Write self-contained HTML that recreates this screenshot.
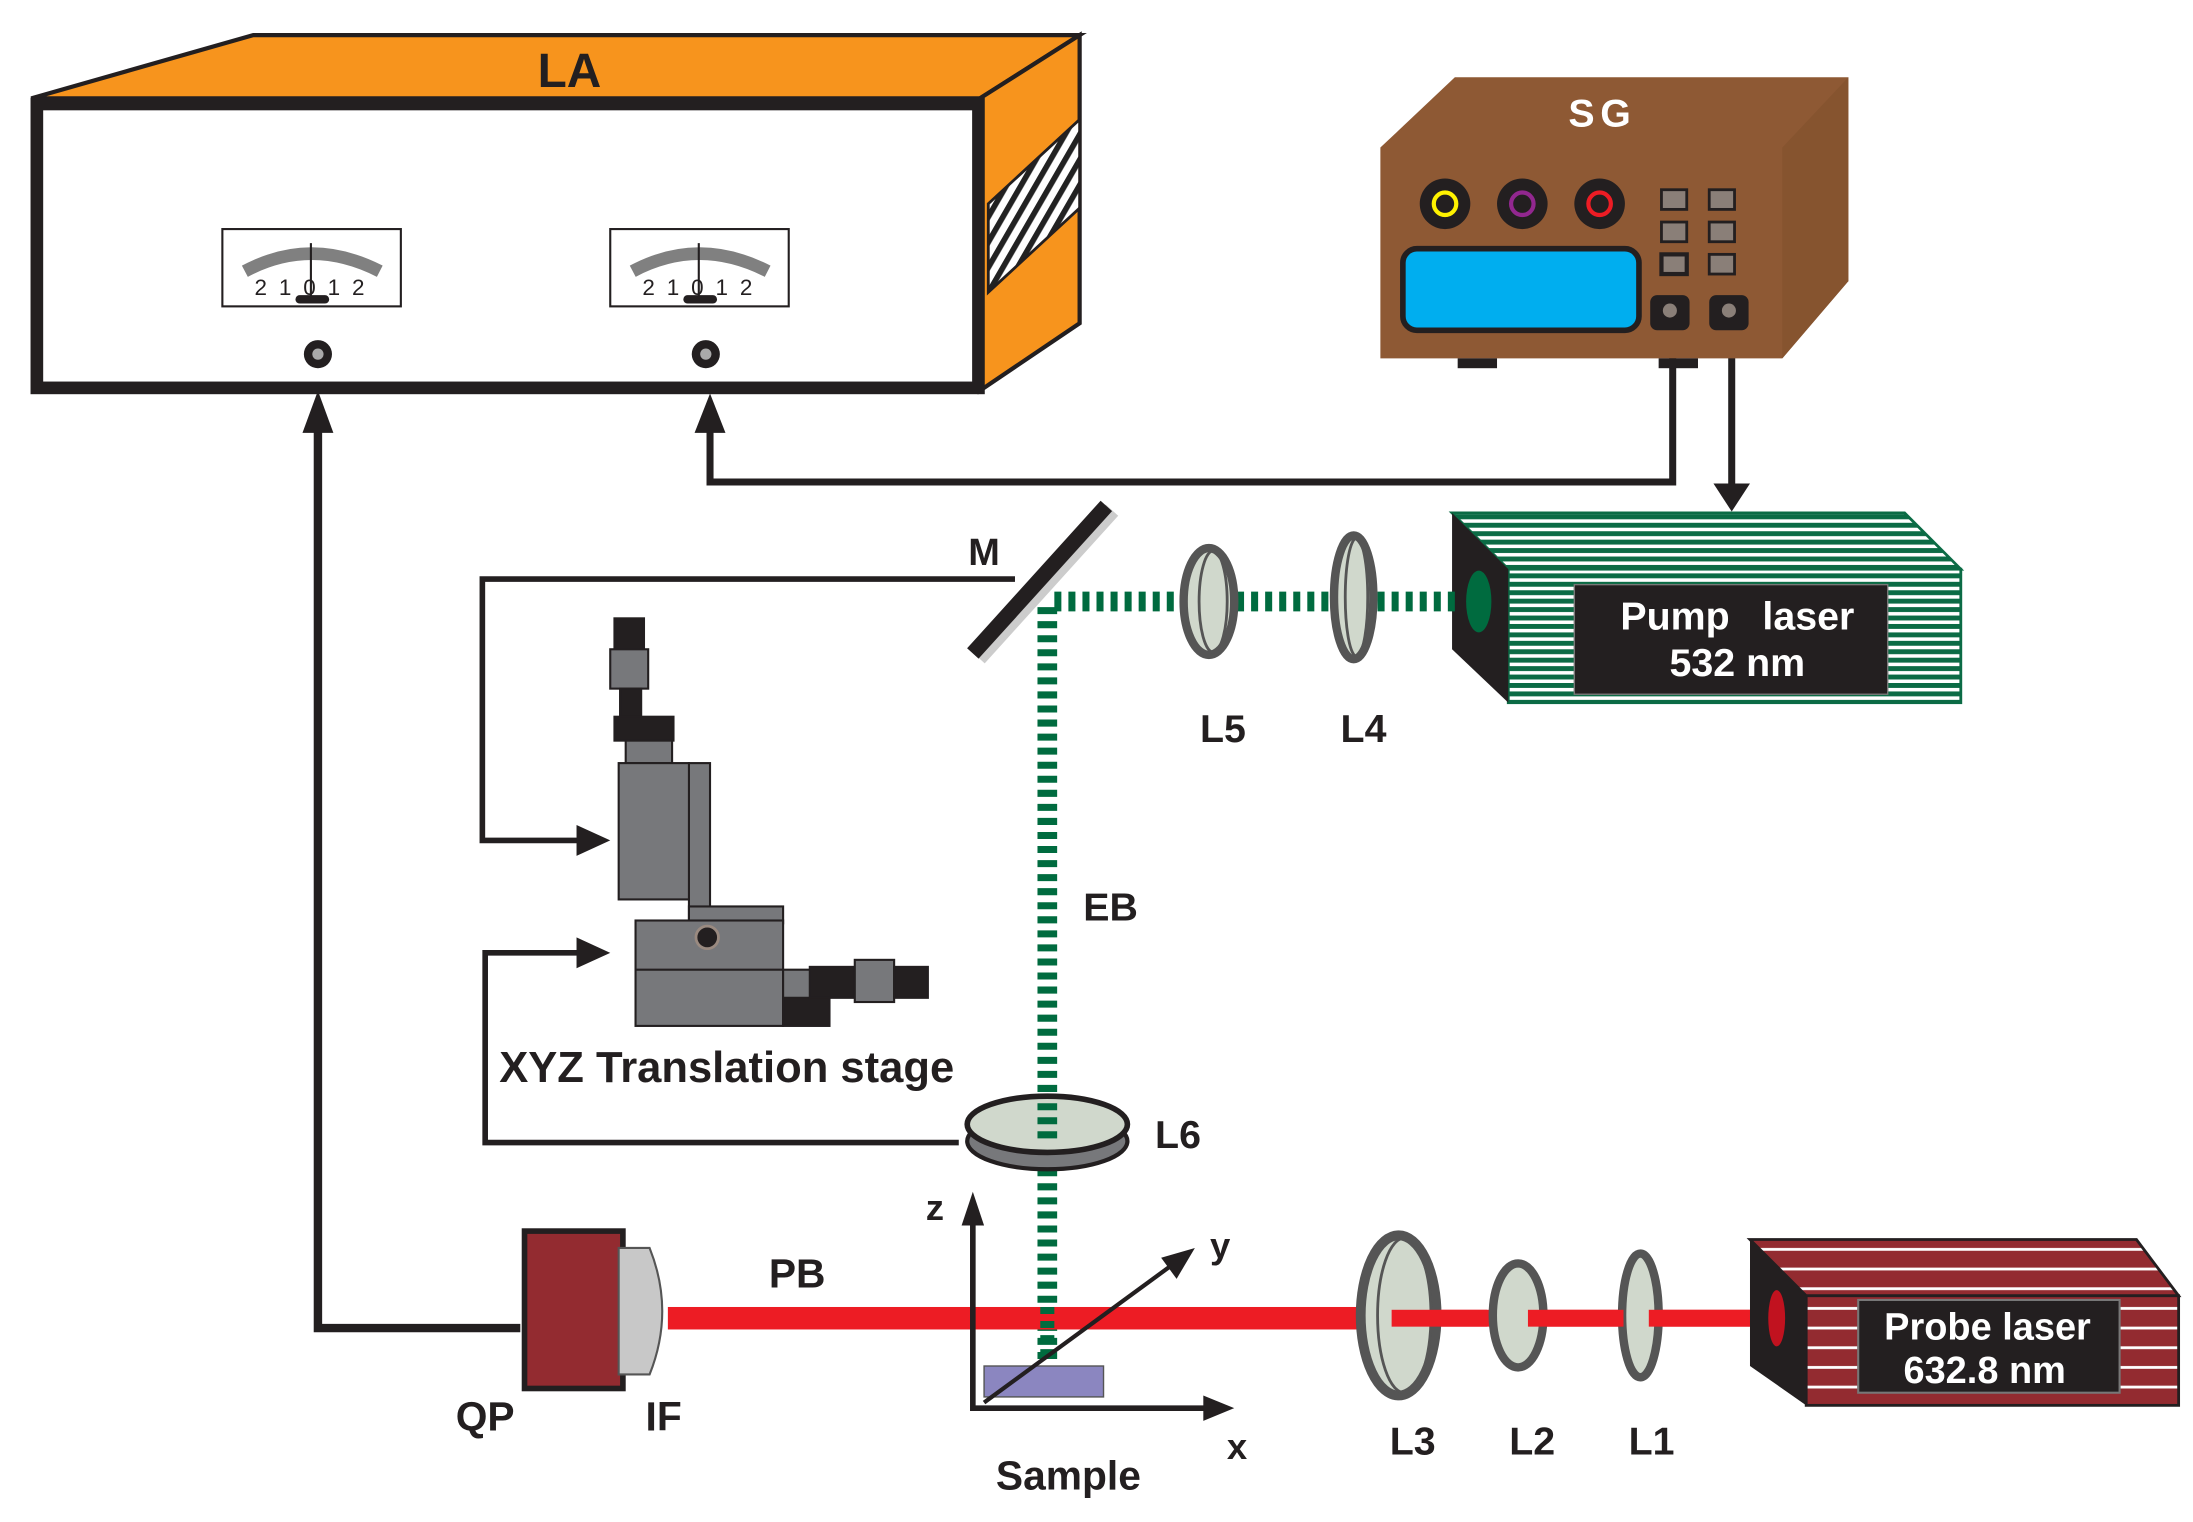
<!DOCTYPE html>
<html><head><meta charset="utf-8"><style>
html,body{margin:0;padding:0;background:#fff;}
svg{display:block;}
text{font-family:"Liberation Sans",sans-serif;font-weight:bold;}
</style></head><body>
<svg width="2193" height="1522" viewBox="0 0 1560 1083" xmlns="http://www.w3.org/2000/svg">
<defs>
<pattern id="hatch" patternUnits="userSpaceOnUse" width="9" height="9" patternTransform="rotate(30)">
<rect width="9" height="9" fill="#fff"/><rect width="4" height="9" fill="#222"/></pattern>
<pattern id="gstripe" patternUnits="userSpaceOnUse" width="6" height="6"><rect width="6" height="6" fill="#fff"/><rect width="6" height="3.5" fill="#0b6b45"/></pattern>
<pattern id="rstripe" patternUnits="userSpaceOnUse" width="12" height="14"><rect width="12" height="14" fill="#932b30"/><rect y="6" width="12" height="2" fill="#fff"/></pattern>
</defs>

<!-- LA -->
<polygon points="22,70 180,25 768,25 697,70" fill="#f7941d" stroke="#231f20" stroke-width="3"/>
<polygon points="697,70 768,25 768,230 697,278" fill="#f7941d" stroke="#231f20" stroke-width="3"/>
<polygon points="703,145 768,85 768,148 703,208" fill="url(#hatch)" stroke="#231f20" stroke-width="2"/>
<rect x="26" y="74" width="670" height="202" fill="#fff" stroke="#231f20" stroke-width="9"/>
<text x="405" y="62" font-size="34" text-anchor="middle" fill="#231f20">LA</text>
<g id="meter">
<rect x="158" y="163" width="127" height="55" fill="#fff" stroke="#231f20" stroke-width="1.5"/>
<path d="M174,193 Q221,168 270,193" fill="none" stroke="#808080" stroke-width="9"/>
<line x1="221" y1="173" x2="221" y2="212" stroke="#231f20" stroke-width="1.5"/>
<rect x="210" y="210" width="24" height="6" rx="3" fill="#231f20"/>
<text x="221" y="210" font-size="16" text-anchor="middle" fill="#231f20" style="font-weight:normal" letter-spacing="2">2 1 0 1 2</text>
</g>
<use href="#meter" x="276"/>
<circle cx="226" cy="252" r="10" fill="#231f20"/><circle cx="226" cy="252" r="4" fill="#aaa"/>
<circle cx="502" cy="252" r="10" fill="#231f20"/><circle cx="502" cy="252" r="4" fill="#aaa"/>

<!-- wires -->
<polyline points="370,945 226,945 226,300" fill="none" stroke="#231f20" stroke-width="6"/>
<polygon points="226,278 215,308 237,308" fill="#231f20"/>
<polyline points="1190,225 1190,343 505,343 505,300" fill="none" stroke="#231f20" stroke-width="5"/>
<polygon points="505,280 494,308 516,308" fill="#231f20"/>
<line x1="1232" y1="225" x2="1232" y2="345" stroke="#231f20" stroke-width="5"/>
<polygon points="1232,364 1219,344 1245,344" fill="#231f20"/>

<!-- SG -->
<polygon points="982,105 1035,55 1315,55 1315,200 1268,255 982,255" fill="#8e5934"/>
<polygon points="1268,105 1315,55 1315,200 1268,255" fill="#86542f"/>
<text x="1140" y="90" font-size="28" fill="#fff" text-anchor="middle" letter-spacing="4">SG</text>
<circle cx="1028" cy="145" r="18" fill="#231f20"/><circle cx="1028" cy="145" r="8" fill="none" stroke="#fff200" stroke-width="3"/>
<circle cx="1083" cy="145" r="18" fill="#231f20"/><circle cx="1083" cy="145" r="8" fill="none" stroke="#92278f" stroke-width="3"/>
<circle cx="1138" cy="145" r="18" fill="#231f20"/><circle cx="1138" cy="145" r="8" fill="none" stroke="#ed1c24" stroke-width="3"/>
<g fill="#8a7f78" stroke="#231f20" stroke-width="2">
<rect x="1182" y="135" width="18" height="14"/><rect x="1216" y="135" width="18" height="14"/>
<rect x="1182" y="158" width="18" height="14"/><rect x="1216" y="158" width="18" height="14"/>
<rect x="1182" y="181" width="18" height="14" stroke-width="3"/><rect x="1216" y="181" width="18" height="14"/>
</g>
<rect x="998" y="177" width="168" height="58" rx="10" fill="#00aeef" stroke="#231f20" stroke-width="4"/>
<rect x="1174" y="210" width="28" height="25" rx="5" fill="#231f20"/><circle cx="1188" cy="221" r="5" fill="#8a7f78"/>
<rect x="1216" y="210" width="28" height="25" rx="5" fill="#231f20"/><circle cx="1230" cy="221" r="5" fill="#8a7f78"/>
<rect x="1037" y="255" width="28" height="7" fill="#231f20"/>
<rect x="1180" y="255" width="28" height="7" fill="#231f20"/>

<!-- Pump laser -->
<polygon points="1033,365 1355,365 1395,405 1073,405" fill="url(#gstripe)" stroke="#0b6b45" stroke-width="2"/>
<rect x="1073" y="405" width="322" height="95" fill="url(#gstripe)" stroke="#0b6b45" stroke-width="2"/>
<polygon points="1033,365 1073,405 1073,500 1033,462" fill="#231f20"/>
<ellipse cx="1052" cy="428" rx="9" ry="22" fill="#006b3f"/>
<rect x="1120" y="416" width="223" height="78" fill="#231f20" stroke="#777" stroke-width="1"/>
<text x="1236" y="448" font-size="28" fill="#fff" text-anchor="middle" xml:space="preserve">Pump   laser</text>
<text x="1236" y="481" font-size="28" fill="#fff" text-anchor="middle">532 nm</text>

<!-- green beam -->
<line x1="750" y1="428" x2="1040" y2="428" stroke="#006b3f" stroke-width="14" stroke-dasharray="5,5"/>
<line x1="745" y1="432" x2="745" y2="968" stroke="#006b3f" stroke-width="14" stroke-dasharray="5,5"/>

<!-- mirror -->
<line x1="692" y1="465" x2="787" y2="360" stroke="#ccc" stroke-width="12" transform="translate(4,3)"/>
<line x1="692" y1="465" x2="787" y2="360" stroke="#231f20" stroke-width="11"/>
<text x="700" y="402" font-size="27" fill="#231f20" text-anchor="middle">M</text>

<!-- L5 L4 -->
<ellipse cx="860" cy="428" rx="18" ry="38" fill="#d0d8cc" stroke="#555" stroke-width="6"/>
<ellipse cx="863" cy="428" rx="10" ry="36" fill="none" stroke="#555" stroke-width="2"/>
<ellipse cx="963" cy="425" rx="14" ry="44" fill="#d0d8cc" stroke="#555" stroke-width="6"/>
<ellipse cx="965" cy="425" rx="8" ry="42" fill="none" stroke="#555" stroke-width="2"/>
<text x="870" y="528" font-size="28" fill="#231f20" text-anchor="middle">L5</text>
<text x="970" y="528" font-size="28" fill="#231f20" text-anchor="middle">L4</text>
<text x="790" y="655" font-size="28" fill="#231f20" text-anchor="middle">EB</text>

<!-- control wires -->
<polyline points="722,412 343,412 343,598 414,598" fill="none" stroke="#231f20" stroke-width="4"/>
<polygon points="434,598 410,587 410,609" fill="#231f20"/>
<polyline points="682,813 345,813 345,678 414,678" fill="none" stroke="#231f20" stroke-width="4"/>
<polygon points="434,678 410,667 410,689" fill="#231f20"/>

<!-- translation stage -->
<g stroke="#231f20" stroke-width="1.5">
<rect x="437" y="440" width="21" height="25" fill="#231f20"/>
<rect x="434" y="462" width="27" height="28" fill="#77787b"/>
<rect x="441" y="490" width="15" height="20" fill="#231f20"/>
<rect x="437" y="510" width="42" height="17" fill="#231f20"/>
<rect x="445" y="527" width="33" height="16" fill="#77787b"/>
<rect x="490" y="543" width="15" height="112" fill="#77787b"/>
<rect x="440" y="543" width="50" height="97" fill="#77787b"/>
<rect x="490" y="645" width="67" height="12" fill="#77787b"/>
<rect x="452" y="655" width="105" height="75" fill="#77787b"/>
<line x1="452" y1="690" x2="557" y2="690"/>
<rect x="557" y="710" width="33" height="20" fill="#231f20"/>
<rect x="557" y="690" width="22" height="20" fill="#77787b"/>
<rect x="576" y="688" width="34" height="22" fill="#231f20"/>
<rect x="608" y="683" width="28" height="30" fill="#77787b"/>
<rect x="636" y="688" width="24" height="22" fill="#231f20"/>
</g>
<circle cx="503" cy="667" r="8" fill="#231f20" stroke="#9a8a80" stroke-width="2"/>
<text x="355" y="770" font-size="31" fill="#231f20">XYZ Translation stage</text>

<!-- L6 -->
<ellipse cx="745" cy="812" rx="57" ry="20" fill="#77787b" stroke="#231f20" stroke-width="3"/>
<ellipse cx="745" cy="800" rx="57" ry="20" fill="#d0d8cc" stroke="#231f20" stroke-width="4"/>
<line x1="745" y1="785" x2="745" y2="812" stroke="#006b3f" stroke-width="14" stroke-dasharray="5,5"/>
<text x="838" y="817" font-size="28" fill="#231f20" text-anchor="middle">L6</text>

<!-- red beam -->
<rect x="475" y="930" width="500" height="16" fill="#ed1c24"/>
<rect x="985" y="932" width="275" height="12" fill="#ed1c24"/>
<line x1="745" y1="930" x2="745" y2="968" stroke="#006b3f" stroke-width="10" stroke-dasharray="5,5"/>

<!-- axes -->
<rect x="700" y="972" width="85" height="22" fill="#8b86c0" stroke="#555" stroke-width="1"/>
<polyline points="692,870 692,1002 860,1002" fill="none" stroke="#231f20" stroke-width="4"/>
<polygon points="692,848 684,872 700,872" fill="#231f20"/>
<polygon points="878,1002 856,993 856,1011" fill="#231f20"/>
<line x1="700" y1="998" x2="838" y2="897" stroke="#231f20" stroke-width="3"/>
<polygon points="850,888 826,895 837,910" fill="#231f20"/>
<text x="665" y="868" font-size="26" fill="#231f20" text-anchor="middle">z</text>
<text x="868" y="895" font-size="26" fill="#231f20" text-anchor="middle">y</text>
<text x="880" y="1038" font-size="26" fill="#231f20" text-anchor="middle">x</text>
<text x="760" y="1060" font-size="29" fill="#231f20" text-anchor="middle">Sample</text>

<!-- QP IF -->
<rect x="373" y="876" width="70" height="112" fill="#932b30" stroke="#231f20" stroke-width="4"/>
<path d="M440,888 L462,888 Q480,933 462,978 L440,978 z" fill="#c8c8c8" stroke="#555" stroke-width="1.5"/>
<text x="345" y="1018" font-size="29" fill="#231f20" text-anchor="middle">QP</text>
<text x="472" y="1018" font-size="29" fill="#231f20" text-anchor="middle">IF</text>
<text x="567" y="916" font-size="29" fill="#231f20" text-anchor="middle">PB</text>

<!-- L3 L2 L1 -->
<ellipse cx="995" cy="936" rx="27" ry="57" fill="#d0d8cc" stroke="#555" stroke-width="7"/>
<ellipse cx="999" cy="936" rx="19" ry="55" fill="none" stroke="#555" stroke-width="2"/>
<ellipse cx="1080" cy="936" rx="18" ry="37" fill="#d0d8cc" stroke="#555" stroke-width="6"/>
<ellipse cx="1167" cy="936" rx="13" ry="44" fill="#d0d8cc" stroke="#555" stroke-width="6"/>
<rect x="990" y="932" width="68" height="12" fill="#ed1c24"/>
<rect x="1087" y="932" width="68" height="12" fill="#ed1c24"/>
<rect x="1173" y="932" width="87" height="12" fill="#ed1c24"/>
<text x="1005" y="1035" font-size="28" fill="#231f20" text-anchor="middle">L3</text>
<text x="1090" y="1035" font-size="28" fill="#231f20" text-anchor="middle">L2</text>
<text x="1175" y="1035" font-size="28" fill="#231f20" text-anchor="middle">L1</text>

<!-- Probe laser -->
<polygon points="1245,882 1520,882 1550,922 1285,922" fill="url(#rstripe)" stroke="#231f20" stroke-width="2"/>
<rect x="1285" y="922" width="265" height="78" fill="url(#rstripe)" stroke="#231f20" stroke-width="2"/>
<polygon points="1245,882 1285,922 1285,1000 1245,972" fill="#231f20"/>
<ellipse cx="1264" cy="938" rx="6" ry="20" fill="#c1121f"/>
<rect x="1322" y="925" width="186" height="66" fill="#231f20" stroke="#777" stroke-width="1.5"/>
<text x="1414" y="953" font-size="27" fill="#fff" text-anchor="middle">Probe laser</text>
<text x="1412" y="984" font-size="27" fill="#fff" text-anchor="middle">632.8 nm</text>
</svg>
</body></html>
